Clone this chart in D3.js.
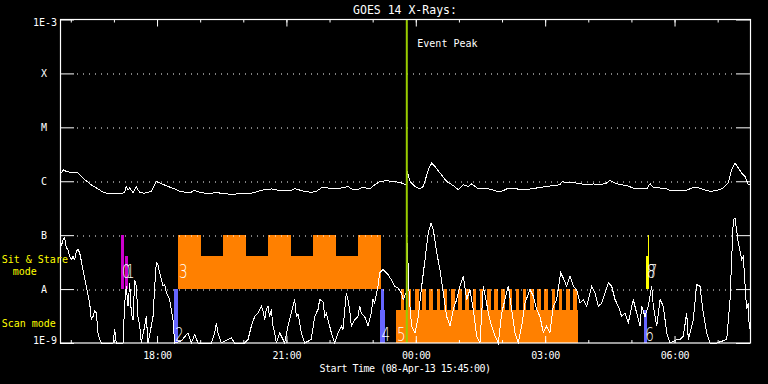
<!DOCTYPE html>
<html>
<head>
<meta charset="utf-8">
<script src="https://cdn.jsdelivr.net/npm/d3@7"></script>
<style>
  html, body { margin: 0; padding: 0; background: #000; }
  svg { display: block; }
  text { font-family: "DejaVu Sans Mono", monospace; fill: #fff; }
</style>
</head>
<body>
<svg id="chart" width="768" height="384"></svg>
<script>
// start of plot window, all times below are minutes after it
const startTime = Date.UTC(2013, 3, 8, 15, 45);
const spanMinutes = 16 * 60;

const decades = [1e-9, 1e-8, 1e-7, 1e-6, 1e-5, 1e-4, 1e-3];
const decadeLabels = ["1E-9", "A", "B", "C", "M", "X", "1E-3"];
const flareClasses = [1e-8, 1e-7, 1e-6, 1e-5, 1e-4]; // dotted lines

// GOES 14 long channel (1-8 A), [minutes, W/m^2]
const longChannel = [
  [1.8,1.42e-6],[4.2,1.63e-6],[8.8,1.52e-6],[15.7,1.46e-6],[25,1.42e-6],[27.4,1.32e-6],[34.4,1.07e-6],
  [43.5,8.6e-7],[52.9,7.2e-7],[59.8,6.3e-7],[66.8,5.9e-7],[76.1,6.0e-7],[85.3,5.9e-7],[90,6.3e-7],
  [92.2,8.0e-7],[94.6,6.8e-7],[97,7.5e-7],[101.6,6.2e-7],[106.2,7.8e-7],[110.9,6.2e-7],[117.8,6.0e-7],
  [127,6.5e-7],[131.8,8.6e-7],[134,9.9e-7],[141,9.0e-7],[150.3,8.0e-7],[159.6,7.2e-7],[166.5,6.5e-7],
  [173.5,6.3e-7],[182.7,6.3e-7],[187.4,6.8e-7],[192,6.4e-7],[201.3,6.0e-7],[210.5,5.9e-7],[215.2,6.2e-7],
  [224.4,6.0e-7],[233.7,5.8e-7],[240.7,5.6e-7],[250,6.0e-7],[257,5.8e-7],[266.2,6.0e-7],[275.5,6.5e-7],
  [284.8,7.0e-7],[294,7.2e-7],[303.3,6.8e-7],[312.6,6.7e-7],[321.8,6.8e-7],[326.5,7.3e-7],[331.1,7.0e-7],
  [340.4,6.5e-7],[349.6,6.2e-7],[356.6,6.5e-7],[363.5,7.5e-7],[372.9,7.5e-7],[382.2,7.2e-7],[391.4,7.5e-7],
  [400.7,8.0e-7],[405.3,7.2e-7],[414.6,7.0e-7],[421.6,7.8e-7],[430.9,7.2e-7],[437.8,8.6e-7],[444.8,9.9e-7],
  [454,1.02e-6],[465.7,9.9e-7],[474.9,9.3e-7],[481.8,8.6e-7],[483.2,1.52e-6],[487,9.9e-7],[493.9,8.0e-7],
  [500.9,7.2e-7],[505.5,8.0e-7],[512.4,1.63e-6],[517.1,2.17e-6],[521.7,1.88e-6],[528.7,1.42e-6],[538,9.9e-7],
  [547.2,8.3e-7],[554.2,7.0e-7],[561.1,8.6e-7],[568.1,8.0e-7],[572.8,8.9e-7],[582,7.2e-7],[591.3,7.5e-7],
  [600.6,7.0e-7],[612.2,6.3e-7],[621.5,7.2e-7],[630.7,7.5e-7],[640,7.0e-7],[649.3,7.0e-7],[663.2,7.5e-7],
  [677.1,8.0e-7],[686.3,8.3e-7],[695.7,8.6e-7],[698.8,9.9e-7],[705,9.3e-7],[714.2,9.5e-7],[723.5,9.0e-7],
  [732.8,8.6e-7],[742,8.9e-7],[751.3,8.6e-7],[760.6,9.3e-7],[765.2,1.04e-6],[774.5,9.0e-7],[788.4,8.3e-7],
  [797.6,7.5e-7],[807,7.2e-7],[816.2,7.2e-7],[820.9,9.0e-7],[825.5,7.8e-7],[834.8,7.5e-7],[844.1,7.2e-7],
  [848.7,6.8e-7],[862.6,6.7e-7],[871.9,6.8e-7],[878.9,7.5e-7],[885.8,7.8e-7],[895,7.0e-7],[904.3,6.5e-7],
  [913.6,6.7e-7],[922.8,7.5e-7],[929.8,9.3e-7],[934.5,1.63e-6],[939.1,2.17e-6],[943.7,1.76e-6],
  [948.5,1.42e-6],[953,1.23e-6],[957.7,8.6e-7],[959.5,8.6e-7]
];

// GOES 14 short channel (0.5-4 A), [minutes, W/m^2]; values under 1E-9 sit on the floor
const shortChannel = [
  [1.8,6.2e-8],[4.2,8.3e-8],[6.5,8.9e-8],[8.8,5.8e-8],[11.1,5.4e-8],[13.5,4.0e-8],[15.7,3.5e-8],[18.1,4.0e-8],
  [20.5,3.5e-8],[22.7,5.0e-8],[25,5.5e-8],[27.4,4.7e-8],[32,2.3e-8],[36.6,1.13e-8],[41.3,5.5e-9],[43.5,2.7e-9],
  [45.9,3.1e-9],[48.3,3.9e-9],[50.5,3.6e-9],[52.9,1.55e-9],[55.2,1.16e-9],[57.5,8e-10],[73.7,8e-10],
  [76.1,1.78e-9],[78.3,8e-10],[87.7,8e-10],[90,5.5e-9],[92.2,1.13e-8],[94.6,4.8e-9],[97,1.3e-8],[99.2,3.6e-9],
  [101.6,2.7e-9],[103.9,1.5e-8],[106.2,1.13e-8],[108.5,3.1e-9],[110.9,2.05e-9],[113.1,8e-10],[117.8,2.05e-9],
  [120.1,3.1e-9],[122.4,1.0e-9],[127,2.05e-9],[129.4,3.1e-9],[131.8,1.13e-8],[134,3.05e-8],[136.3,2.85e-8],
  [138.7,2.0e-8],[143.3,1.13e-8],[145.7,1.21e-8],[147.9,8.5e-9],[152.6,6.4e-9],[157.2,2.7e-9],[159.6,8e-10],
  [168.8,1.1e-9],[178.1,1.55e-9],[182.7,9e-10],[187.4,1.44e-9],[192,8e-10],[210.5,8e-10],[215.2,1.55e-9],
  [217.5,2.37e-9],[219.8,1.55e-9],[224.4,8e-10],[233.7,1.16e-9],[238.3,1.25e-9],[243,8e-10],[257,8e-10],
  [261.6,1.16e-9],[266.2,2.05e-9],[270.9,3.1e-9],[275.5,3.6e-9],[280.1,4.8e-9],[282.5,3.9e-9],[284.8,2.7e-9],
  [287,4.2e-9],[289.4,4.8e-9],[291.7,3.1e-9],[294,4.2e-9],[296.3,2.05e-9],[298.7,1.55e-9],[300.9,8e-10],
  [305.6,1.55e-9],[312.6,8e-10],[317.2,2.05e-9],[321.8,3.6e-9],[324.2,4.8e-9],[326.5,6.4e-9],[328.8,3.1e-9],
  [331.1,3.4e-9],[333.5,2.37e-9],[335.7,1.55e-9],[340.4,8e-10],[349.6,1.16e-9],[354.3,3.1e-9],[359,4.2e-9],
  [361.3,6.4e-9],[365.9,5.9e-9],[368.3,3.1e-9],[370.5,3.6e-9],[372.9,2.7e-9],[377.5,1.55e-9],[382.2,8e-10],
  [386.8,1.55e-9],[391.4,2.05e-9],[393.7,1.78e-9],[398.3,8.5e-9],[400.7,6.4e-9],[403,4.2e-9],[405.3,2.05e-9],
  [410,2.7e-9],[414.6,3.1e-9],[417,4.8e-9],[419.2,3.6e-9],[423.9,3.1e-9],[428.5,2.05e-9],[433.1,3.6e-9],
  [435.5,6.4e-9],[437.8,5.5e-9],[442.4,1.13e-8],[444.8,2.0e-8],[449.4,2.3e-8],[456.3,1.86e-8],[460.9,1.5e-8],
  [465.7,1.13e-8],[470.3,1.05e-8],[474.9,8.5e-9],[477.6,6.4e-9],[481.4,8.5e-9],[483.2,7.2e-8],[486,6.4e-9],
  [489.3,2.05e-9],[493.9,1.55e-9],[498.5,3.1e-9],[503.2,1.13e-8],[507.8,3.5e-8],[512.4,1.1e-7],[516.2,1.68e-7],
  [519.4,1.26e-7],[524.1,4.7e-8],[528.7,2.3e-8],[533.3,8.5e-9],[538,3.1e-9],[542.6,2.05e-9],[547.2,4.2e-9],
  [551.9,6.4e-9],[556.5,1.13e-8],[561.1,1.73e-8],[565.8,6.4e-9],[570.4,9.8e-9],[575,4.2e-9],[579.7,1.34e-9],
  [584.3,8e-10],[588.9,1.13e-8],[592.7,6.4e-9],[595.9,3.6e-9],[600.6,2.05e-9],[605.2,1.34e-9],[609.8,8e-10],
  [614.5,3.6e-9],[619.1,6.4e-9],[623.7,1.13e-8],[628.4,4.2e-9],[633,1.55e-9],[637.6,8e-10],[642.3,2.05e-9],
  [646.9,5.5e-9],[653.9,9.8e-9],[658.5,7.4e-9],[663.2,4.2e-9],[667.8,3.1e-9],[672.4,1.55e-9],[677.1,2.05e-9],
  [681.7,1.55e-9],[686.3,4.8e-9],[691,6.4e-9],[696.6,2.0e-8],[700.2,1.61e-8],[704.9,1.13e-8],[709.5,1.73e-8],
  [714.2,1.13e-8],[718.9,9.8e-9],[723.5,5.5e-9],[728.1,6.4e-9],[732.8,4.8e-9],[739.7,1.13e-8],[744.3,8.5e-9],
  [749,4.8e-9],[753.7,5.5e-9],[758.3,8.5e-9],[762.9,1.3e-8],[767.6,1.13e-8],[772.2,6.4e-9],[776.8,4.8e-9],
  [781.5,3.1e-9],[786.1,3.6e-9],[790.7,2.37e-9],[797.6,6.4e-9],[802.3,3.6e-9],[807,2.05e-9],[809.3,4.8e-9],
  [813.9,3.1e-9],[818.5,4.8e-9],[823.2,1.13e-8],[825.5,4.8e-9],[830.2,2.05e-9],[834.8,6.4e-9],[839.4,4.8e-9],
  [844.1,1.55e-9],[848.7,8e-10],[858,1.16e-9],[862.6,1.16e-9],[867.2,1.34e-9],[871.9,3.6e-9],[874.2,1.16e-9],
  [881.1,2.7e-9],[885.8,1.21e-8],[890.4,1.13e-8],[895,3.6e-9],[899.7,1.55e-9],[904.3,8e-10],[913.6,8e-10],
  [927.6,1.16e-9],[932.2,6.4e-9],[936.8,1.94e-7],[939.1,2.08e-7],[943.7,7.2e-8],[948.5,3.5e-8],[950.7,4.0e-8],
  [955.3,4.2e-9],[957.7,5.5e-9],[959,1.78e-9]
];

// observing modes: sit & stare band is A..B, scan band is 1E-9..A
const sitBand = [1e-8, 1e-7];
const scanBand = [1e-9, 1e-8];
const lowFlagTop = 0.61; // fraction of a band used by the short bars

// block 3 (sit & stare): base, and the full-height dwells
const sitStareBlock = [164.2, 446.6];
const sitStareDwells = [[164.2,196.2],[226.8,258.8],[289.4,321.4],[352.1,384.1],[414.7,446.6]];
// block 5 (scan): base, and the full-height scan steps
const scanBlock = [467.5, 720.7];
const scanStepStart = [474,484,494,504,514,524,534,544,554,564,574,584,594,604,614,624,634,644,654,664,674,684,694,704,714];
const scanStepLength = 5;

// other pointings: id, band, start, end, full or short
const pointId    = ["0", "1", "2", "4", "4", "6", "7", "8"];
const pointBand  = ["sit", "sit", "scan", "scan", "scan", "scan", "sit", "sit"];
const pointStart = [84.9, 90.4, 158.6, 447.0, 445.9, 813.0, 817.6, 815.3];
const pointEnd   = [89.0, 94.6, 164.2, 450.8, 452.2, 816.7, 819.0, 819.5];
const pointFull  = [true, false, true, true, false, false, true, false];

// number labels: id, band, minute
const labelId    = ["0", "1", "2", "3", "4", "5", "6", "7", "8"];
const labelBand  = ["sit", "sit", "scan", "sit", "scan", "scan", "scan", "sit", "sit"];
const labelStart = [84.9, 90.4, 158.6, 164.2, 445.9, 467.5, 813.0, 817.6, 815.3];

const eventPeak = 482.5;

const colours = { sit: "#ff8000", "0": "#cc00cc", "1": "#cc00cc", "2": "#6666ff", "4": "#6666ff", "6": "#6666ff", "7": "#ffff00", "8": "#ffff00" };

const margin = { top: 19.5, right: 18, bottom: 41, left: 60 };
const svg = d3.select("#chart");
const W = +svg.attr("width") - margin.left - margin.right;
const H = +svg.attr("height") - margin.top - margin.bottom;
const g = svg.append("g").attr("transform", `translate(${margin.left},${margin.top})`);

const toDate = m => new Date(startTime + m * 60000);
const x = d3.scaleUtc().domain([toDate(0), toDate(spanMinutes)]).range([0, W]);
const y = d3.scaleLog().domain([1e-9, 1e-3]).range([H, 0]).clamp(true);

const bandOf = b => b === "sit" ? sitBand : scanBand;
const shortTop = band => Math.pow(10, Math.log10(band[0]) + lowFlagTop);

function bar(t0, t1, lo, hi, fill) {
  g.append("rect")
    .attr("x", x(toDate(t0)))
    .attr("width", x(toDate(t1)) - x(toDate(t0)))
    .attr("y", y(hi))
    .attr("height", y(lo) - y(hi))
    .attr("fill", fill)
    .attr("shape-rendering", "crispEdges");
}

// orange mode blocks
bar(sitStareBlock[0], sitStareBlock[1], sitBand[0], shortTop(sitBand), colours.sit);
sitStareDwells.forEach(d => bar(d[0], d[1], sitBand[0], sitBand[1], colours.sit));
bar(scanBlock[0], scanBlock[1], scanBand[0], shortTop(scanBand), colours.sit);
scanStepStart.forEach(s => bar(s, s + scanStepLength, scanBand[0], scanBand[1], colours.sit));

// other pointings
pointId.forEach((id, i) => {
  const band = bandOf(pointBand[i]);
  bar(pointStart[i], pointEnd[i], band[0], pointFull[i] ? band[1] : shortTop(band), colours[id]);
});

// dotted class lines
g.append("g").selectAll("line").data(flareClasses).join("line")
  .attr("x1", 15).attr("x2", W - 14)
  .attr("y1", d => Math.round(y(d)) + 0.5).attr("y2", d => Math.round(y(d)) + 0.5)
  .attr("stroke", "#fff").attr("stroke-width", 1)
  .attr("stroke-dasharray", "1,5").attr("stroke-dashoffset", -2);

// flux curves
const line = d3.line().x(d => x(toDate(d[0]))).y(d => y(d[1]));
[longChannel, shortChannel].forEach(series => {
  g.append("path").datum(series)
    .attr("d", line)
    .attr("fill", "none")
    .attr("stroke", "#fff")
    .attr("stroke-width", 1)
    .attr("shape-rendering", "crispEdges");
});

// number labels
const labelFlux = { sit: 1.6e-8, scan: 1.1e-9 };
labelId.forEach((id, i) => {
  g.append("text")
    .attr("transform", `translate(${x(toDate(labelStart[i])) + 1},${y(labelFlux[labelBand[i]])}) scale(0.68,1)`)
    .style("font-family", "'DejaVu Sans', sans-serif")
    .style("font-size", "20px")
    .style("font-weight", 200)
    .text(id);
});

// event peak
const xp = x(toDate(eventPeak));
g.append("line")
  .attr("x1", xp).attr("x2", xp).attr("y1", 0).attr("y2", H)
  .attr("stroke", "#99cc00").attr("stroke-width", 2);
g.append("text").attr("x", xp + 10.5).attr("y", 27.2)
  .style("font-size", "10px").text("Event Peak");

// frame
g.append("rect").attr("x", 0.5).attr("y", 0).attr("width", W).attr("height", H)
  .attr("fill", "none").attr("stroke", "#fff").attr("stroke-width", 1.2);

// y axes
const yLeft = g.append("g")
  .call(d3.axisLeft(y).tickValues(decades).tickSize(-14).tickPadding(3)
    .tickFormat((d, i) => decadeLabels[i]));
yLeft.select(".domain").remove();
yLeft.selectAll("line").attr("stroke", "#fff");
yLeft.selectAll("text")
  .style("font-size", "10px").style("fill", "#fff")
  .attr("font-family", null)
  .each(function (d, i) {
    const t = d3.select(this);
    if (decadeLabels[i].length === 1) t.attr("x", -16).attr("text-anchor", "middle");
    if (i === decades.length - 1) t.attr("dy", "0.62em");
    if (i === 0) t.attr("dy", "0.02em");
  });

const yRight = g.append("g").attr("transform", `translate(${W},0)`)
  .call(d3.axisRight(y).tickValues(decades).tickSize(-14).tickFormat(""));
yRight.select(".domain").remove();
yRight.selectAll("line").attr("stroke", "#fff");

// x axes: hourly minor ticks, 3-hourly major ticks with labels
function xAxes(axisFn, yPos, labels) {
  const minor = g.append("g").attr("transform", `translate(0,${yPos})`)
    .call(axisFn(x).ticks(d3.utcHour.every(1)).tickSize(-3).tickFormat(""));
  const major = g.append("g").attr("transform", `translate(0,${yPos})`)
    .call(axisFn(x).ticks(d3.utcHour.every(3)).tickSize(-7).tickPadding(9)
      .tickFormat(labels ? d3.utcFormat("%H:%M") : ""));
  [minor, major].forEach(a => {
    a.select(".domain").remove();
    a.selectAll("line").attr("stroke", "#fff");
  });
  major.selectAll("text").attr("font-family", null)
    .style("font-size", "10px").style("letter-spacing", "-0.3px").style("fill", "#fff");
}
xAxes(d3.axisBottom, H, true);
xAxes(d3.axisTop, 0, false);

// titles
svg.append("text").attr("x", margin.left + W / 2).attr("y", 14)
  .attr("text-anchor", "middle").style("font-size", "11.5px")
  .text("GOES 14 X-Rays:");
svg.append("text").attr("x", margin.left + W / 2).attr("y", 371.7)
  .attr("text-anchor", "middle").style("font-size", "10px").style("letter-spacing", "-0.5px")
  .text("Start Time (08-Apr-13 15:45:00)");

// mode captions
const caption = (tx, ty, s) => svg.append("text").attr("x", tx).attr("y", ty)
  .style("font-size", "10px").style("fill", "#ffff00").text(s);
caption(1.7, margin.top + y(sitBand[0]) - 26.3, "Sit & Stare");
caption(12.7, margin.top + y(sitBand[0]) - 14, "mode");
caption(1.7, margin.top + y(scanBand[0]) - 16.3, "Scan mode");
</script>
</body>
</html>
